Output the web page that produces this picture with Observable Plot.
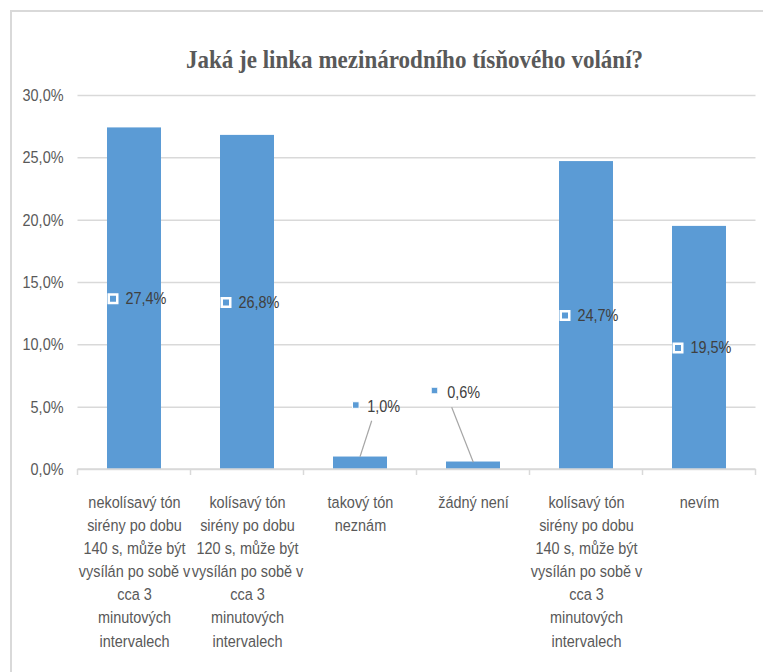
<!DOCTYPE html>
<html><head><meta charset="utf-8">
<script src="https://cdn.jsdelivr.net/npm/d3@7"></script>
<script src="https://cdn.jsdelivr.net/npm/@observablehq/plot@0.6"></script>
<style>
html,body{margin:0;padding:0;background:#fff;}
#wrap{position:relative;width:763px;height:672px;overflow:hidden;background:#fff;}
#frame{position:absolute;left:10px;top:10px;width:800px;height:700px;border-left:2px solid #d9d9d9;border-top:2px solid #d9d9d9;}
#title{position:absolute;left:33px;top:47px;width:763px;text-align:center;font-family:"Liberation Serif","DejaVu Serif",serif;font-weight:bold;font-size:26px;line-height:26px;color:#595959;transform:scaleX(0.886);transform-origin:50% 50%;white-space:nowrap;}
#chart{position:absolute;left:0;top:0;}
</style>
</head><body>
<div id="wrap"><div id="frame"></div><div id="chart"></div><div id="title">Jaká je linka mezinárodního tísňového volání?</div></div>
<script>
const categories = [
  "nekolísavý tón sirény po dobu 140 s, může být vysílán po sobě v cca 3 minutových intervalech",
  "kolísavý tón sirény po dobu 120 s, může být vysílán po sobě v cca 3 minutových intervalech",
  "takový tón neznám",
  "žádný není",
  "kolísavý tón sirény po dobu 140 s, může být vysílán po sobě v cca 3 minutových intervalech",
  "nevím"
];
const tickLabels = [
  "nekolísavý tón\nsirény po dobu\n140 s, může být\nvysílán po sobě v\ncca 3\nminutových\nintervalech",
  "kolísavý tón\nsirény po dobu\n120 s, může být\nvysílán po sobě v\ncca 3\nminutových\nintervalech",
  "takový tón\nneznám",
  "žádný není",
  "kolísavý tón\nsirény po dobu\n140 s, může být\nvysílán po sobě v\ncca 3\nminutových\nintervalech",
  "nevím"
];
const values = [27.4, 26.8, 1.0, 0.6, 24.7, 19.5];
const yTicks = [0, 5, 10, 15, 20, 25, 30];

const data = categories.map((c, i) => ({cat: c, value: values[i]}));
const big = data.filter(d => d.value > 5);
const fmt = v => v.toFixed(1).replace(".", ",") + "%";
const FONT = '"Liberation Sans",Arial,sans-serif';
const SQUEEZE = 0.85;

// callout placement (pixel offsets relative to bar top centre) for small bars
const callouts = [
  {cat: categories[2], sq: [-4.7, -52], tx: [6.7, -50.5], l1: [11.7, -35.8], l2: [0, 0.2]},
  {cat: categories[3], sq: [-39, -71.5], tx: [-26.3, -69], l1: [-21.3, -54.2], l2: [0.3, 0.8]}
];

function decor(index, scales, values_, dims) {
  const x = scales.x, y = scales.y;
  const bw = typeof x.bandwidth === "function" ? x.bandwidth() : x.bandwidth;
  const step = typeof x.step === "function" ? x.step() : x.step;
  const g = d3.create("svg:g");
  const y0 = y(0);
  const left = dims.marginLeft, right = dims.width - dims.marginRight;
  g.append("line").attr("x1", left).attr("x2", right).attr("y1", y0).attr("y2", y0)
    .attr("stroke", "#d9d9d9").attr("stroke-width", 1.5);
  const bounds = categories.map(c => x(c) + bw / 2 - step / 2)
    .concat([x(categories[categories.length - 1]) + bw / 2 + step / 2]);
  for (const b of bounds) {
    g.append("line").attr("x1", b).attr("x2", b).attr("y1", y0).attr("y2", y0 + 6)
      .attr("stroke", "#d9d9d9").attr("stroke-width", 1.5);
  }
  for (const c of callouts) {
    const d = data.find(e => e.cat === c.cat);
    const cx = x(c.cat) + bw / 2, cy = y(d.value);
    g.append("line").attr("x1", cx + c.l1[0]).attr("y1", cy + c.l1[1])
      .attr("x2", cx + c.l2[0]).attr("y2", cy + c.l2[1])
      .attr("stroke", "#a6a6a6").attr("stroke-width", 1.2);
  }
  return g.node();
}

const calloutMarks = callouts.flatMap(c => {
  const rows = data.filter(d => d.cat === c.cat);
  return [
    Plot.dot(rows, {x: "cat", y: "value", symbol: "square", r: 3.7, fill: "#5b9bd5", stroke: "white", strokeWidth: 1, dx: c.sq[0], dy: c.sq[1]}),
    Plot.text(rows, {x: "cat", y: "value", text: d => fmt(d.value), textAnchor: "start", dx: c.tx[0], dy: c.tx[1], fontSize: 17, fill: "#404040"})
  ];
});

const chart = Plot.plot({
  width: 763,
  height: 672,
  marginLeft: 77.5,
  marginRight: 7.5,
  marginTop: 95,
  marginBottom: 203,
  style: {fontFamily: FONT, background: "transparent", overflow: "visible"},
  x: {domain: categories, paddingInner: 0.52, paddingOuter: 0.26, axis: null},
  y: {domain: [0, 30], axis: null},
  marks: [
    Plot.gridY(yTicks, {stroke: "#d9d9d9", strokeOpacity: 1, strokeWidth: 1.5}),
    Plot.axisY(yTicks, {tickSize: 0, tickPadding: 14.5, tickFormat: fmt, fontSize: 17, fill: "#595959", label: null}),
    Plot.barY(data, {x: "cat", y: "value", fill: "#5b9bd5"}),
    decor,
    Plot.axisX({tickSize: 0, tickPadding: 22, tickFormat: d => tickLabels[categories.indexOf(d)], lineHeight: 1.36, fontSize: 17, fill: "#595959", label: null}),
    Plot.dot(big, {x: "cat", y: d => d.value / 2, symbol: "square", r: 4.8, fill: "#5b9bd5", stroke: "white", strokeWidth: 2.5, dx: -21.5}),
    Plot.text(big, {x: "cat", y: d => d.value / 2, text: d => fmt(d.value), textAnchor: "start", dx: -9, fontSize: 17, fill: "#404040"}),
    ...calloutMarks
  ]
});
// narrow the glyphs horizontally around each text's own anchor
d3.select(chart).selectAll("text").each(function () {
  const t = this.getAttribute("transform");
  if (t != null) {
    this.setAttribute("transform", t + ` scale(${SQUEEZE},1)`);
  } else {
    const x = +(this.getAttribute("x") || 0), y = +(this.getAttribute("y") || 0);
    this.setAttribute("transform", `translate(${x},${y}) scale(${SQUEEZE},1) translate(${-x},${-y})`);
  }
});
document.getElementById("chart").appendChild(chart);
</script>
</body></html>
